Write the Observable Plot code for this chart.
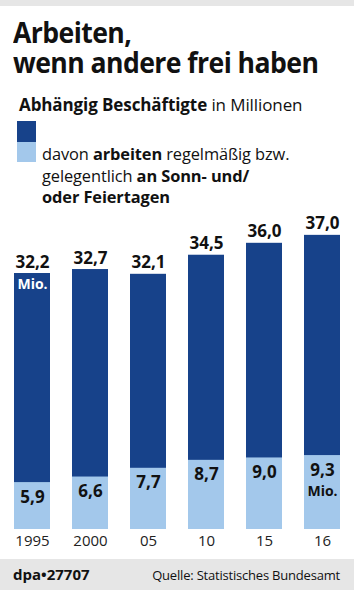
<!DOCTYPE html>
<html>
<head>
<meta charset="utf-8">
<script src="https://cdn.jsdelivr.net/npm/d3@7"></script>
<script src="https://cdn.jsdelivr.net/npm/@observablehq/plot@0.6"></script>
<style>
  html, body { margin: 0; padding: 0; background: #fff; }
  body { width: 354px; height: 590px; position: relative; overflow: hidden; font-family: "Open Sans", sans-serif; color: #111; }
  .abs { position: absolute; white-space: nowrap; }
  #topband { left: 0; top: 0; width: 354px; height: 6px; background: #e6e6e6; }
  #title { left: 13px; top: 17px; font-size: 28px; font-weight: 700; line-height: 30px; letter-spacing: -0.6px; transform: scaleX(0.95); transform-origin: 0 0; }
  #subtitle { left: 19px; top: 95px; font-size: 17px; line-height: 20px; letter-spacing: -0.1px; }
  .sw { position: absolute; left: 17px; width: 19px; }
  #legtext { left: 42px; top: 143px; font-size: 16.4px; line-height: 21.5px; letter-spacing: -0.1px; }
  #chart { position: absolute; left: 0; top: 200px; }
  #footer { left: 0; top: 559px; width: 354px; height: 31px; background: #e6e6e6; }
  #dpa { left: 13px; top: 564px; font-size: 15px; font-weight: 700; }
  #src { right: 14px; top: 566px; font-size: 13px; letter-spacing: -0.2px; }
</style>
</head>
<body>
<div id="topband" class="abs"></div>
<div id="title" class="abs">Arbeiten,<br>wenn andere frei haben</div>
<div id="subtitle" class="abs"><b>Abhängig Beschäftigte</b> in Millionen</div>
<div class="sw" style="top:121px;height:21px;background:#17428a"></div>
<div class="sw" style="top:142px;height:20px;background:#a3c8eb"></div>
<div id="legtext" class="abs">davon <b>arbeiten</b> regelmäßig bzw.<br>gelegentlich <b>an Sonn- und/</b><br><b>oder Feiertagen</b></div>
<div id="chart"></div>
<div id="footer" class="abs"></div>
<div id="dpa" class="abs">dpa•27707</div>
<div id="src" class="abs">Quelle: Statistisches Bundesamt</div>
<script>
const years = ["1995", "2000", "05", "10", "15", "16"];
const total = [32.2, 32.7, 32.1, 34.5, 36.0, 37.0];
const sundays = [5.9, 6.6, 7.7, 8.7, 9.0, 9.3];

const DARK = "#17428a";
const LIGHT = "#a3c8eb";
const fmt = v => v.toFixed(1).replace(".", ",");

const data = years.map((y, i) => ({year: y, total: total[i], sun: sundays[i]}));

const chart = Plot.plot({
  width: 354,
  height: 355,
  marginLeft: 14,
  marginRight: 14,
  marginTop: 11,
  marginBottom: 26,
  style: {fontFamily: "Open Sans, sans-serif", background: "transparent", overflow: "visible"},
  x: {domain: years, paddingInner: 0.38, paddingOuter: 0, label: null},
  y: {domain: [0, 40], axis: null},
  marks: [
    Plot.barY(data, {x: "year", y: "total", fill: DARK}),
    Plot.barY(data, {x: "year", y: "sun", fill: LIGHT}),
    Plot.text(data, {x: "year", y: "total", text: d => fmt(d.total), lineAnchor: "bottom", dy: -6, fontSize: 17, fontWeight: 700, fill: "#111"}),
    Plot.text(data, {x: "year", y: "sun", text: d => fmt(d.sun), lineAnchor: "top", dy: 8, fontSize: 17, fontWeight: 700, fill: "#111"}),
    Plot.text([data[0]], {x: "year", y: "total", text: () => "Mio.", lineAnchor: "top", dy: 6, fontSize: 14, fontWeight: 700, fill: "#fff"}),
    Plot.text([data[5]], {x: "year", y: "sun", text: () => "Mio.", lineAnchor: "top", dy: 30, fontSize: 14, fontWeight: 700, fill: "#111"}),
    Plot.axisX({tickSize: 0, tickPadding: 6, fontSize: 15, fill: "#222", label: null})
  ]
});
document.getElementById("chart").appendChild(chart);
</script>
</body>
</html>
